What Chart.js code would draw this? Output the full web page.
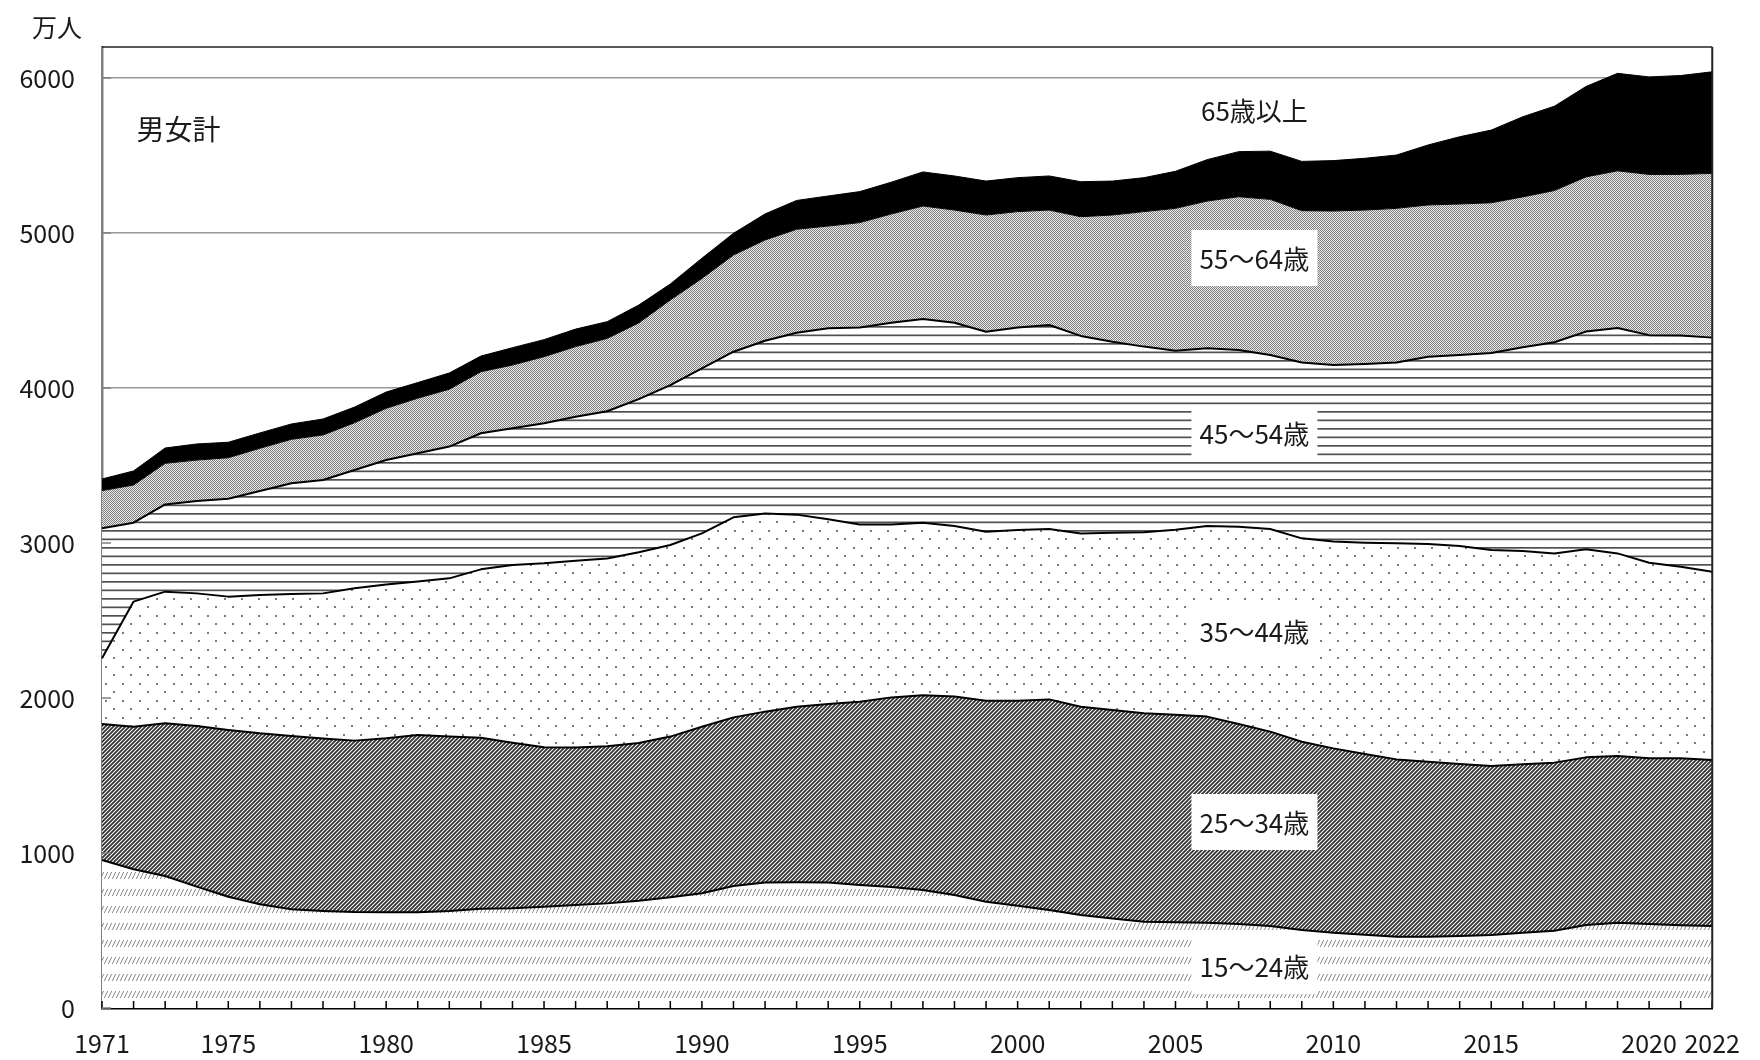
<!DOCTYPE html>
<html><head><meta charset="utf-8">
<script src="https://cdn.jsdelivr.net/npm/chart.js@4.4.0/dist/chart.umd.min.js"></script>
<style>html,body{margin:0;padding:0;background:#fff;}</style>
</head><body>
<canvas id="c" width="1760" height="1060"></canvas>
<script>
// ---- data (万人) ----
const years = [1971,1972,1973,1974,1975,1976,1977,1978,1979,1980,1981,1982,1983,1984,1985,1986,1987,1988,1989,1990,
 1991,1992,1993,1994,1995,1996,1997,1998,1999,2000,2001,2002,2003,2004,2005,2006,2007,2008,2009,2010,
 2011,2012,2013,2014,2015,2016,2017,2018,2019,2020,2021,2022];
const labeledYears = [1971,1975,1980,1985,1990,1995,2000,2005,2010,2015,2020,2022];
const yTicks = [0,1000,2000,3000,4000,5000,6000];

const age15_24 = [955,895,852,783,718,669,637,626,619,617,617,626,641,643,654,665,675,692,714,740,
 787,809,811,809,794,780,761,729,686,660,632,600,578,557,553,550,542,529,503,486,
 473,460,460,465,471,486,499,535,550,542,534,529];
const age25_34 = [877,920,985,1036,1076,1103,1118,1112,1106,1123,1144,1125,1103,1069,1028,1015,1013,1018,1037,1075,
 1088,1103,1133,1152,1182,1224,1256,1280,1297,1323,1359,1344,1345,1344,1339,1330,1290,1254,1215,1189,
 1166,1144,1129,1109,1090,1086,1084,1082,1076,1069,1077,1071];
const age35_44 = [424,807,849,856,860,893,916,937,983,993,990,1021,1086,1146,1187,1206,1212,1230,1236,1247,
 1291,1279,1239,1192,1144,1116,1114,1101,1090,1101,1099,1118,1143,1168,1194,1230,1273,1307,1312,1334,
 1363,1394,1405,1407,1394,1376,1350,1342,1307,1262,1236,1215];
const age45_54 = [839,509,563,596,632,671,714,731,763,802,828,850,878,882,903,929,950,988,1032,1065,
 1068,1114,1174,1232,1271,1301,1314,1311,1290,1307,1316,1274,1233,1198,1155,1146,1140,1123,1134,1139,
 1153,1166,1208,1232,1271,1315,1362,1405,1454,1468,1492,1510];
const age55_64 = [243,243,265,264,264,275,284,291,305,334,355,370,397,408,430,452,470,492,549,580,
 624,650,667,660,676,702,729,727,753,747,742,769,817,871,918,950,989,1004,980,994,
 993,995,979,974,969,970,979,998,1014,1037,1039,1060];
const age65plus = [75,91,99,104,100,99,99,103,101,105,101,105,101,112,110,113,108,115,103,130,
 140,168,186,194,200,205,220,220,219,219,220,226,219,219,239,267,291,311,318,325,
 334,344,387,434,469,517,544,583,629,629,638,655];

const seriesNames = ['15〜24歳','25〜34歳','35〜44歳','45〜54歳','55〜64歳','65歳以上'];

// text annotations (anchor in data units: year, value)
const notes = [
  {text:'男女計', year:1973.42, value:5677, box:false, size:28},
  {text:'65歳以上', year:2007.5, value:5790, box:false, size:26},
  {text:'55〜64歳', year:2007.5, value:4839, box:true, size:26},
  {text:'45〜54歳', year:2007.5, value:3710, box:true, size:26},
  {text:'35〜44歳', year:2007.5, value:2432, box:true, size:26},
  {text:'25〜34歳', year:2007.5, value:1200, box:true, size:26},
  {text:'15〜24歳', year:2007.5, value:271, box:true, size:26}
];

const FONT = '"Noto Sans CJK JP","Noto Sans",sans-serif';
Chart.defaults.font.family = FONT;
Chart.defaults.color = '#1a1a1a';

function makePattern(w, h, draw) {
  const c = document.createElement('canvas');
  c.width = w; c.height = h;
  const g = c.getContext('2d');
  g.fillStyle = '#fff'; g.fillRect(0, 0, w, h);
  draw(g);
  return g.createPattern(c, 'repeat');
}
const pat15 = makePattern(4, 17, g => {
  g.strokeStyle = '#8a8a8a'; g.lineWidth = 1;
  g.beginPath(); g.moveTo(0.3, 12); g.lineTo(3.7, 5); g.stroke();
});
const pat25 = makePattern(4, 4, g => {
  g.strokeStyle = '#333'; g.lineWidth = 1.8;
  g.beginPath();
  g.moveTo(0, 4); g.lineTo(4, 0);
  g.moveTo(-1, 1); g.lineTo(1, -1);
  g.moveTo(3, 5); g.lineTo(5, 3);
  g.stroke();
});
const pat35 = makePattern(17, 17, g => {
  g.fillStyle = '#7a7a7a';
  g.fillRect(3, 3, 2, 2);
  g.fillRect(11, 11, 2, 2);
});
const pat45 = makePattern(4, 17, g => {
  g.fillStyle = '#505050';
  g.fillRect(0, 3, 4, 1.7);
  g.fillRect(0, 11.5, 4, 1.7);
});
const pat55 = makePattern(2, 2, g => {
  g.fillStyle = '#ebebeb'; g.fillRect(0, 0, 2, 2);
  g.fillStyle = '#7e7e7e'; g.fillRect(0, 0, 1, 1); g.fillRect(1, 1, 1, 1);
});

const fills = [pat15, pat25, pat35, pat45, pat55, '#000'];
const values = [age15_24, age25_34, age35_44, age45_54, age55_64, age65plus];
const borderW = [2, 2, 2, 2, 1, 1];

const datasets = values.map((v, i) => ({
  label: seriesNames[i],
  data: v,
  backgroundColor: fills[i],
  borderColor: '#000',
  borderWidth: borderW[i],
  fill: i === 0 ? 'origin' : '-1',
  pointRadius: 0,
  tension: 0
}));

const decorPlugin = {
  id: 'decor',
  afterDatasetsDraw(chart) {
    const ctx = chart.ctx, a = chart.chartArea;
    const xs = chart.scales.x, ys = chart.scales.y;
    ctx.save();
    // inward year ticks on the x axis
    ctx.strokeStyle = '#000'; ctx.lineWidth = 1.5;
    ctx.beginPath();
    years.forEach((yr, i) => {
      const px = xs.getPixelForValue(i);
      ctx.moveTo(px, a.bottom); ctx.lineTo(px, a.bottom - 7);
    });
    ctx.stroke();
    // inward y ticks
    ctx.strokeStyle = '#808080'; ctx.lineWidth = 1.5;
    ctx.beginPath();
    yTicks.forEach(v => {
      const py = ys.getPixelForValue(v);
      ctx.moveTo(a.left, py); ctx.lineTo(a.left + 9, py);
    });
    ctx.stroke();
    // top and right frame
    ctx.strokeStyle = '#222'; ctx.lineWidth = 1.5;
    ctx.beginPath();
    ctx.moveTo(a.left, a.top); ctx.lineTo(a.right, a.top);
    ctx.stroke();
    ctx.lineWidth = 2;
    ctx.beginPath();
    ctx.moveTo(a.right, a.top); ctx.lineTo(a.right, a.bottom);
    ctx.stroke();
    // annotations
    ctx.textAlign = 'center'; ctx.textBaseline = 'middle';
    notes.forEach(n => {
      const px = xs.getPixelForValue(n.year - years[0]);
      const py = ys.getPixelForValue(n.value);
      if (n.box) {
        ctx.fillStyle = '#fff';
        ctx.fillRect(px - 63, py - 28, 126, 56);
      }
      ctx.fillStyle = '#1a1a1a';
      ctx.font = n.size + 'px ' + FONT;
      ctx.fillText(n.text, px, py + 1);
    });
    // unit label
    ctx.font = '25px ' + FONT;
    ctx.textAlign = 'left';
    ctx.fillText('万人', a.left - 70, a.top - 20);
    ctx.restore();
  }
};

new Chart(document.getElementById('c'), {
  type: 'line',
  data: { labels: years.map(String), datasets },
  options: {
    responsive: false,
    animation: false,
    devicePixelRatio: 1,
    layout: { padding: { top: 47, right: 34, left: 0, bottom: 0 } },
    plugins: { legend: { display: false }, tooltip: { enabled: false } },
    elements: { line: { borderJoinStyle: 'round' } },
    scales: {
      x: {
        offset: false,
        grid: { display: false, drawTicks: false },
        border: { display: true, color: '#000', width: 2.5 },
        ticks: {
          autoSkip: false, maxRotation: 0, minRotation: 0, padding: 20,
          font: { size: 25, family: FONT, weight: 400 }, color: '#1a1a1a',
          callback: function(val, idx) {
            const yr = years[idx];
            return labeledYears.includes(yr) ? String(yr) : '';
          }
        },
        afterFit(s) { s.height = 52; }
      },
      y: {
        stacked: true,
        min: 0, max: 6200,
        grid: { color: '#999', lineWidth: 1.5, drawTicks: false },
        border: { display: true, color: '#808080', width: 2.5 },
        afterBuildTicks(s) { s.ticks = yTicks.map(v => ({ value: v })); },
        ticks: {
          padding: 27,
          font: { size: 25, family: FONT, weight: 400 }, color: '#1a1a1a',
          callback: v => String(v)
        },
        afterFit(s) { s.width = 102; }
      }
    }
  },
  plugins: [decorPlugin]
});
</script>
</body></html>
